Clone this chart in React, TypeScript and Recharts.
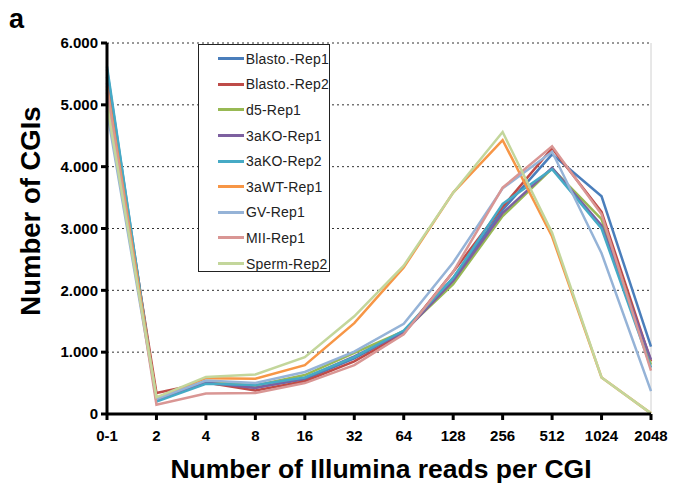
import {
  CartesianGrid,
  Legend,
  Line,
  LineChart,
  ReferenceLine,
  XAxis,
  YAxis,
} from "recharts";

const READ_BINS = ["0-1", "2", "4", "8", "16", "32", "64", "128", "256", "512", "1024", "2048"];
const Y_TICKS = [0, 1000, 2000, 3000, 4000, 5000, 6000];

const blastoRep1 = [5570, 230, 500, 430, 560, 900, 1330, 2200, 3300, 4200, 3520, 1090];
const blastoRep2 = [5350, 340, 510, 380, 530, 850, 1300, 2300, 3350, 4300, 3270, 850];
const d5Rep1 = [5200, 250, 520, 460, 630, 990, 1340, 2100, 3200, 3970, 3150, 800];
const ko3aRep1 = [5450, 220, 510, 420, 580, 930, 1320, 2150, 3250, 3980, 3050, 880];
const ko3aRep2 = [5620, 200, 490, 470, 590, 920, 1350, 2200, 3400, 3960, 3000, 750];
const wt3aRep1 = [5300, 260, 580, 570, 790, 1470, 2370, 3580, 4430, 2870, 590, 10];
const gvRep1 = [4900, 240, 540, 500, 680, 1010, 1460, 2450, 3650, 4240, 2600, 370];
const miiRep1 = [5250, 150, 330, 340, 500, 790, 1290, 2300, 3660, 4330, 3230, 700];
const spermRep2 = [5000, 270, 600, 640, 920, 1580, 2400, 3580, 4560, 2930, 590, 10];

const SERIES = [
  { key: "blastoRep1", name: "Blasto.-Rep1", color: "#4a7ebb", values: blastoRep1 },
  { key: "blastoRep2", name: "Blasto.-Rep2", color: "#be4b48", values: blastoRep2 },
  { key: "d5Rep1", name: "d5-Rep1", color: "#98b954", values: d5Rep1 },
  { key: "ko3aRep1", name: "3aKO-Rep1", color: "#7d60a0", values: ko3aRep1 },
  { key: "ko3aRep2", name: "3aKO-Rep2", color: "#46aac5", values: ko3aRep2 },
  { key: "wt3aRep1", name: "3aWT-Rep1", color: "#f79646", values: wt3aRep1 },
  { key: "gvRep1", name: "GV-Rep1", color: "#95b3d7", values: gvRep1 },
  { key: "miiRep1", name: "MII-Rep1", color: "#d99694", values: miiRep1 },
  { key: "spermRep2", name: "Sperm-Rep2", color: "#c3d69b", values: spermRep2 },
];

const FONT = '"Liberation Sans", Arial, sans-serif';

function thousands(v: number): string {
  if (v === 0) return "0";
  const s = String(v);
  return s.slice(0, s.length - 3) + "." + s.slice(-3);
}

// legend keeps the series order (recharts would sort it by name)
function LegendBox() {
  return (
    <div
      style={{
        width: 132,
        height: 228,
        border: "1px solid #222",
        background: "#fff",
        boxSizing: "border-box",
        paddingTop: 1,
      }}
    >
      {SERIES.map((it) => (
        <div
          key={it.key}
          style={{ display: "flex", alignItems: "center", height: 25.6 }}
        >
          <div
            style={{
              marginLeft: 19,
              width: 26,
              height: 3,
              background: it.color,
            }}
          />
          <span
            style={{
              marginLeft: 2,
              fontFamily: FONT,
              fontSize: 14,
              letterSpacing: 0.2,
              lineHeight: "16px",
              color: "#222",
              whiteSpace: "nowrap",
            }}
          >
            {it.name}
          </span>
        </div>
      ))}
    </div>
  );
}

export default function App() {
  const data = READ_BINS.map((bin, i) => {
    const row: Record<string, string | number> = { bin };
    for (const s of SERIES) row[s.key] = s.values[i];
    return row;
  });

  return (
    <div
      style={{
        position: "absolute",
        left: 0,
        top: 0,
        width: 673,
        height: 483,
        background: "#fff",
        fontFamily: FONT,
      }}
    >
      <LineChart
        width={673}
        height={483}
        data={data}
        margin={{ top: 43, right: 22, bottom: 39, left: 0 }}
      >
        <CartesianGrid
          horizontal
          vertical={false}
          stroke="#333"
          strokeDasharray="2 3"
        />
        <ReferenceLine x="2048" stroke="#d0d0d0" strokeWidth={1} />
        <XAxis
          dataKey="bin"
          height={30}
          stroke="#000"
          strokeWidth={3}
          tickSize={6}
          tickMargin={10}
          tick={{ fill: "#000", fontSize: 15, fontWeight: "bold", fontFamily: FONT }}
          interval={0}
        />
        <YAxis
          width={107}
          domain={[0, 6000]}
          ticks={Y_TICKS}
          stroke="#000"
          strokeWidth={3}
          tickSize={6}
          tickMargin={3}
          tickFormatter={thousands}
          tick={{ fill: "#000", fontSize: 15, fontWeight: "bold", fontFamily: FONT }}
        />
        {SERIES.map((s) => (
          <Line
            key={s.key}
            dataKey={s.key}
            name={s.name}
            stroke={s.color}
            strokeWidth={2.5}
            dot={false}
            isAnimationActive={false}
          />
        ))}
        <Legend
          layout="vertical"
          align="center"
          verticalAlign="middle"
          wrapperStyle={{ left: 198, top: 44, width: 132, height: 228 }}
          content={() => <LegendBox />}
        />
      </LineChart>
      <div
        style={{
          position: "absolute",
          left: 9,
          top: 4,
          fontSize: 27,
          fontWeight: "bold",
          color: "#000",
        }}
      >
        a
      </div>
      <div
        style={{
          position: "absolute",
          left: 381,
          top: 469,
          transform: "translate(-50%, -50%)",
          whiteSpace: "nowrap",
          fontSize: 26.5,
          fontWeight: "bold",
          color: "#000",
        }}
      >
        Number of Illumina reads per CGI
      </div>
      <div
        style={{
          position: "absolute",
          left: 31,
          top: 211,
          transform: "translate(-50%, -50%) rotate(-90deg)",
          whiteSpace: "nowrap",
          fontSize: 27.5,
          fontWeight: "bold",
          color: "#000",
        }}
      >
        Number of CGIs
      </div>
    </div>
  );
}
